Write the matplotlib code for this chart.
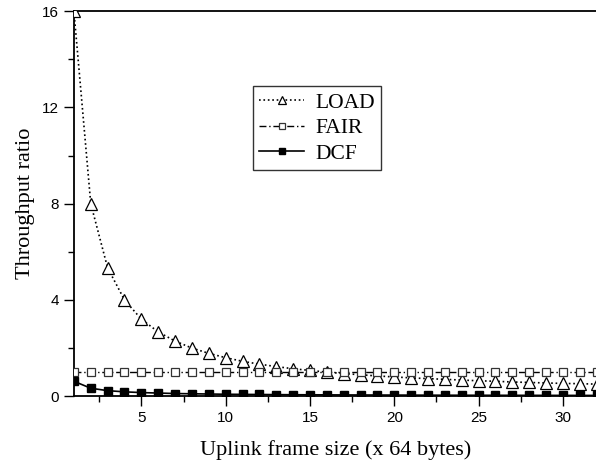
import matplotlib
matplotlib.use("Agg")
import matplotlib.pyplot as plt
from matplotlib.ticker import MultipleLocator

# données
frame_size = list(range(1, 33))
load = [16.0, 8.0, 5.33, 4.0, 3.2, 2.67, 2.29, 2.0, 1.78, 1.6, 1.45, 1.33, 1.23, 1.14,
        1.07, 1.0, 0.94, 0.89, 0.84, 0.8, 0.76, 0.73, 0.7, 0.67, 0.64, 0.62, 0.59,
        0.57, 0.55, 0.53, 0.52, 0.5]
fair = [1.0] * 32
dcf = [0.62, 0.33, 0.23, 0.18, 0.15, 0.13, 0.11, 0.1, 0.09, 0.08, 0.075, 0.07, 0.065,
       0.06, 0.058, 0.055, 0.052, 0.05, 0.048, 0.046, 0.044, 0.042, 0.04, 0.039, 0.038,
       0.037, 0.036, 0.035, 0.034, 0.033, 0.032, 0.031]

fig = plt.figure(figsize=(5.96, 4.65), dpi=100)
ax = fig.add_axes([0.124, 0.148, 0.877, 0.828])

ax.plot(frame_size, load, linestyle=':', color='black', lw=1.2, marker='^',
        markersize=8, markerfacecolor='white', markeredgecolor='black',
        markeredgewidth=0.9, label='LOAD', zorder=3)
ax.plot(frame_size, fair, linestyle=(0, (5, 2, 1, 2)), color='black', lw=1.0,
        marker='s', markersize=5.2, markerfacecolor='white', markeredgecolor='#333333',
        markeredgewidth=0.9, label='FAIR', zorder=3)
ax.plot(frame_size, dcf, linestyle='-', color='black', lw=1.2, marker='s',
        markersize=5.2, markerfacecolor='black', markeredgecolor='black',
        label='DCF', zorder=4)

ax.set_xlim(1, 32)
ax.set_ylim(0, 16)
ax.xaxis.set_major_locator(MultipleLocator(5))
ax.xaxis.set_minor_locator(MultipleLocator(2.5))
ax.yaxis.set_major_locator(MultipleLocator(4))
ax.yaxis.set_minor_locator(MultipleLocator(2))
ax.tick_params(which='major', direction='out', length=7, width=1, labelsize=11)
ax.tick_params(which='minor', direction='out', length=4, width=1)
for lab in ax.get_xticklabels() + ax.get_yticklabels():
    lab.set_family('Liberation Sans')

ax.spines['right'].set_visible(False)
for s in ['left', 'bottom', 'top']:
    ax.spines[s].set_linewidth(1.3)

ax.set_xlabel("Uplink frame size (x 64 bytes)", family='Liberation Serif',
              fontsize=16, labelpad=11)
ax.set_ylabel("Throughput ratio", family='Liberation Serif', fontsize=16, labelpad=5)

leg = ax.legend(loc='upper left', bbox_to_anchor=(0.342, 0.805), borderaxespad=0,
                frameon=True, fancybox=False, edgecolor='black', markerscale=0.8,
                handlelength=2.1, handletextpad=0.5, borderpad=0.3, labelspacing=0.25,
                prop={'family': 'Liberation Serif', 'size': 15.5})
leg.get_frame().set_linewidth(1.0)

fig.savefig("out.png", dpi=100)
